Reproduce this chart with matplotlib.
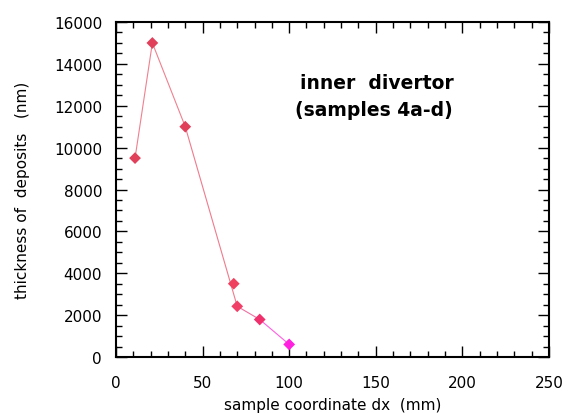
import matplotlib.pyplot as plt
from matplotlib.ticker import MultipleLocator

# data
dx_line = [11, 21, 40, 70, 83, 100]
thick_line = [9500, 15000, 11000, 2420, 1790, 600]
line_colors = ["#f0808f", "#f0808f", "#f07a8c", "#f070a0", "#ff60e0"]

dx_pts = [11, 21, 40, 68, 70, 83, 100]
thick_pts = [9500, 15000, 11000, 3500, 2420, 1790, 600]
pt_colors = ["#e0405a", "#e0405a", "#e0405a", "#f04060", "#f04068", "#f0306c", "#ff20e0"]

plt.rcParams["font.family"] = ["DejaVu Sans"]

fig = plt.figure(figsize=(5.68, 4.14), dpi=100)
ax = fig.add_axes([0.2042, 0.1353, 0.7623, 0.8091])

for i in range(len(dx_line) - 1):
    ax.plot(dx_line[i:i + 2], thick_line[i:i + 2], color=line_colors[i], lw=0.8, zorder=2)

ax.scatter(dx_pts, thick_pts, marker="D", s=36, c=pt_colors, linewidths=0, zorder=3)

ax.set_xlim(0, 250)
ax.set_ylim(0, 16000)
ax.xaxis.set_major_locator(MultipleLocator(50))
ax.xaxis.set_minor_locator(MultipleLocator(10))
ax.yaxis.set_major_locator(MultipleLocator(2000))
ax.yaxis.set_minor_locator(MultipleLocator(500))

ax.tick_params(which="both", direction="in", top=True, right=True, width=1, labelsize=11)
ax.tick_params(axis="x", which="major", length=8, pad=13)
ax.tick_params(axis="y", which="major", length=8, pad=10)
ax.tick_params(which="minor", length=4)
for s in ax.spines.values():
    s.set_linewidth(1.5)

ax.set_xlabel("sample coordinate dx  (mm)", fontsize=11, labelpad=5)
ax.set_ylabel("thickness of  deposits   (nm)", fontsize=11, labelpad=17)

ax.text(0.602, 0.819, "inner  divertor", transform=ax.transAxes, ha="center", va="center",
        fontsize=13.5, fontweight="bold")
ax.text(0.596, 0.738, "(samples 4a-d)", transform=ax.transAxes, ha="center", va="center",
        fontsize=13.5, fontweight="bold")

fig.savefig("out.png", dpi=100)
